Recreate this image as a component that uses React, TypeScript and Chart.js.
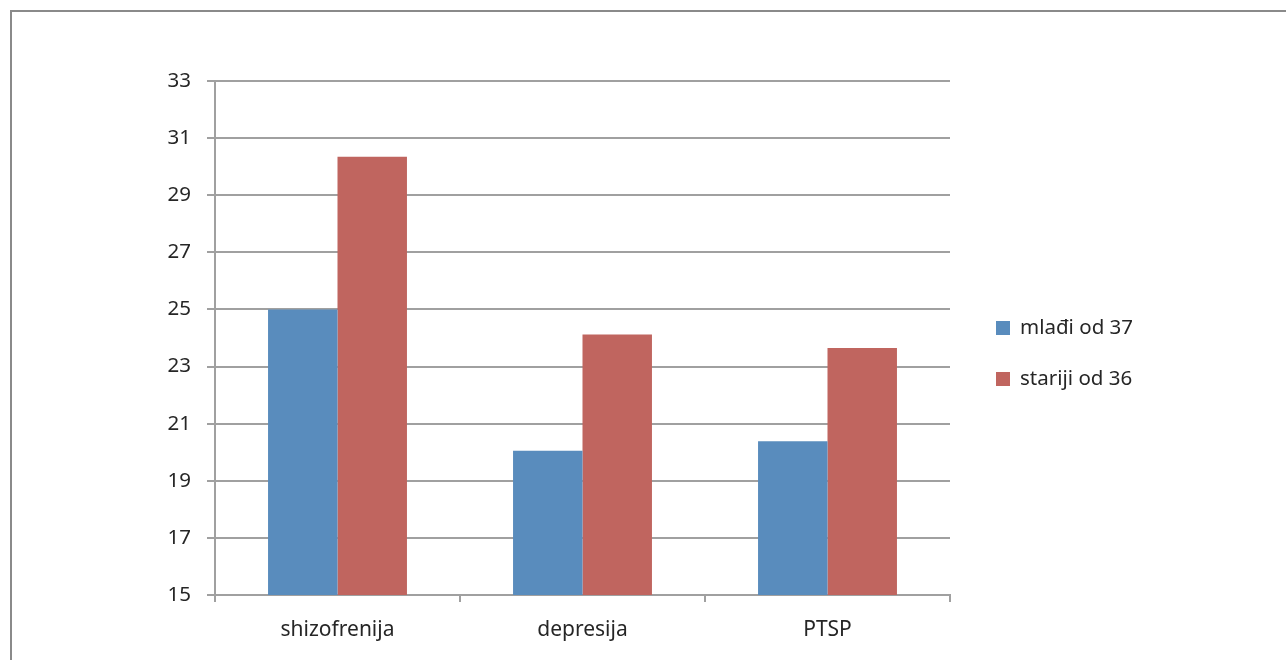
import React, { useEffect, useRef } from "react";
import { Chart, registerables } from "chart.js";

Chart.register(...registerables);

const categories = ["shizofrenija", "depresija", "PTSP"];
const seriesNames = ["mlađi od 37", "stariji od 36"];
const youngerValues = [25.0, 20.05, 20.38];
const olderValues = [30.35, 24.12, 23.65];
const seriesColors = ["#598CBD", "#C0655F"];
const yMin = 15;
const yMax = 33;
const yStep = 2;

const FONT = "'Noto Sans', 'Open Sans', sans-serif";

export default function App() {
  const ref = useRef<HTMLCanvasElement | null>(null);

  useEffect(() => {
    document.body.style.margin = "0";
    document.body.style.overflow = "hidden";
    const canvas = ref.current;
    if (!canvas) return;

    const framePlugin = {
      id: "frame",
      beforeDraw(chart: any) {
        const ctx = chart.ctx;
        ctx.save();
        ctx.fillStyle = "#ffffff";
        ctx.fillRect(0, 0, chart.width, chart.height);
        ctx.strokeStyle = "#8a8a8a";
        ctx.lineWidth = 2;
        ctx.beginPath();
        ctx.moveTo(11, chart.height + 5);
        ctx.lineTo(11, 11);
        ctx.lineTo(chart.width + 5, 11);
        ctx.stroke();
        ctx.restore();
      },
    };

    const legendPlugin = {
      id: "customLegend",
      afterDraw(chart: any) {
        const ctx = chart.ctx;
        ctx.save();
        const x = 996;
        const startY = 328;
        const gap = 51;
        chart.data.datasets.forEach((ds: any, i: number) => {
          const cy = startY + i * gap;
          ctx.fillStyle = ds.backgroundColor;
          ctx.fillRect(x, cy - 7, 14, 14);
          ctx.fillStyle = "#262626";
          ctx.font = `20.5px ${FONT}`;
          ctx.textBaseline = "middle";
          ctx.textAlign = "left";
          ctx.fillText(ds.label, x + 24, cy);
        });
        ctx.restore();
      },
    };

    const chart = new Chart(canvas, {
      type: "bar",
      data: {
        labels: categories,
        datasets: [
          {
            label: seriesNames[0],
            data: youngerValues,
            backgroundColor: seriesColors[0],
            categoryPercentage: 0.567,
            barPercentage: 1.0,
          },
          {
            label: seriesNames[1],
            data: olderValues,
            backgroundColor: seriesColors[1],
            categoryPercentage: 0.567,
            barPercentage: 1.0,
          },
        ],
      },
      options: {
        responsive: false,
        animation: false,
        devicePixelRatio: 1,
        layout: { padding: { left: 0, right: 336, top: 81, bottom: 0 } },
        plugins: {
          legend: { display: false },
          tooltip: { enabled: false },
        },
        scales: {
          x: {
            offset: true,
            grid: {
              offset: true,
              drawOnChartArea: false,
              drawTicks: true,
              tickLength: 7,
              color: "#a0a0a0",
              lineWidth: 2,
            },
            border: { display: true, color: "#a0a0a0", width: 2 },
            ticks: {
              color: "#262626",
              font: { family: FONT, size: 21 },
              padding: 15,
            },
            afterFit(scale: any) {
              scale.height = 65;
            },
          },
          y: {
            min: yMin,
            max: yMax,
            ticks: {
              stepSize: yStep,
              color: "#262626",
              font: { family: FONT, size: 20.5 },
              padding: 16,
            },
            grid: {
              color: "#a0a0a0",
              lineWidth: 2,
              tickLength: 8,
              drawTicks: true,
            },
            border: { display: true, color: "#a0a0a0", width: 2 },
            afterFit(scale: any) {
              scale.width = 215;
            },
          },
        },
      },
      plugins: [framePlugin, legendPlugin],
    });

    return () => chart.destroy();
  }, []);

  return (
    <div style={{ position: "fixed", left: 0, top: 0, width: 1286, height: 660 }}>
      <canvas ref={ref} width={1286} height={660} style={{ width: 1286, height: 660, display: "block" }} />
    </div>
  );
}
